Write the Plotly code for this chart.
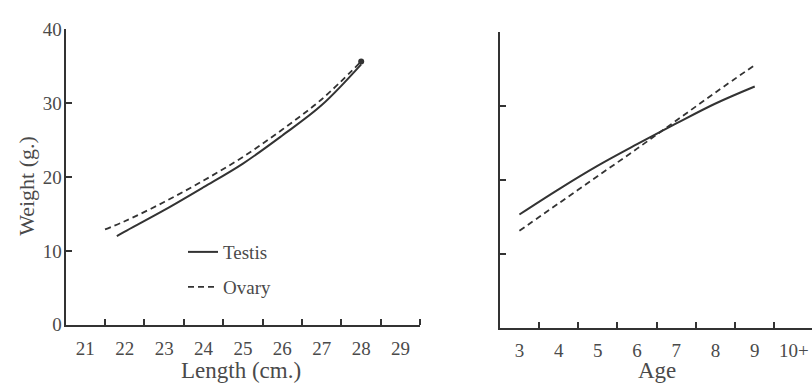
import plotly.graph_objects as go

# ---- data ----
length_testis = [21.8, 22, 23, 24, 25, 26, 27, 28]
weight_testis_len = [12.0, 12.6, 15.5, 18.6, 21.8, 25.6, 29.7, 35.2]
length_ovary = [21.5, 22, 23, 24, 25, 26, 27, 28]
weight_ovary_len = [12.9, 14.0, 16.6, 19.5, 22.7, 26.4, 30.5, 35.6]

ages = [3, 4, 5, 6, 7, 8, 9]
weight_testis_age = [15.3, 18.7, 21.9, 24.8, 27.6, 30.3, 32.6]
weight_ovary_age = [13.1, 16.8, 20.5, 24.2, 28.0, 31.8, 35.5]

length_ticks = [21, 22, 23, 24, 25, 26, 27, 28, 29]
age_ticks = [3, 4, 5, 6, 7, 8, 9, 10]
age_tick_labels = ["3", "4", "5", "6", "7", "8", "9", "10+"]
weight_ticks = [0, 10, 20, 30, 40]

W, H = 812, 385
FONT = "Liberation Serif"
TXT = "#4a4a4a"
LINE = "#333333"
DASH = "6px,4px"

fig = go.Figure()

fig.add_trace(go.Scatter(x=length_testis, y=weight_testis_len, mode="lines",
                         line=dict(color=LINE, width=2, shape="spline"),
                         name="Testis", legend="legend", xaxis="x", yaxis="y"))
fig.add_trace(go.Scatter(x=length_ovary, y=weight_ovary_len, mode="lines",
                         line=dict(color=LINE, width=1.8, dash=DASH, shape="spline"),
                         name="Ovary", legend="legend2", xaxis="x", yaxis="y"))
fig.add_trace(go.Scatter(x=[length_ovary[-1]], y=[weight_ovary_len[-1]], mode="markers",
                         marker=dict(color=LINE, size=6), showlegend=False,
                         xaxis="x", yaxis="y"))

fig.add_trace(go.Scatter(x=ages, y=weight_testis_age, mode="lines",
                         line=dict(color=LINE, width=2, shape="spline"),
                         showlegend=False, xaxis="x2", yaxis="y2"))
fig.add_trace(go.Scatter(x=ages, y=weight_ovary_age, mode="lines",
                         line=dict(color=LINE, width=1.8, dash=DASH, shape="spline"),
                         showlegend=False, xaxis="x2", yaxis="y2"))

tickfont = dict(family=FONT, size=19, color=TXT)

common_x = dict(showline=True, linecolor=LINE, linewidth=2, showgrid=False, zeroline=False,
                ticks="", tickfont=tickfont, ticklabelstandoff=5)
common_y = dict(showline=True, linecolor=LINE, linewidth=2, showgrid=False, zeroline=False,
                ticks="inside", ticklen=6, tickwidth=2, tickcolor=LINE, tickfont=tickfont,
                range=[0, 40], tickmode="array", tickvals=weight_ticks)

legend_font = dict(family=FONT, size=19, color=TXT)
title_font = dict(family=FONT, size=23, color=TXT)

fig.update_layout(
    width=W, height=H,
    margin=dict(l=0, r=0, t=0, b=0),
    paper_bgcolor="white", plot_bgcolor="white",
    xaxis=dict(common_x, domain=[65.6 / W, 420.3 / W], range=[20.5, 29.5],
               tickmode="array", tickvals=length_ticks,
               minor=dict(tickmode="array", tickvals=[v + 0.5 for v in length_ticks],
                          ticks="inside", ticklen=6, tickwidth=2, tickcolor=LINE),
               anchor="y"),
    yaxis=dict(common_y, domain=[(H - 333) / H, (H - 20) / H], anchor="x",
               ticklabelstandoff=-2),
    xaxis2=dict(common_x, domain=[499.8 / W, 1.0], range=[2.5, 10.46],
                tickmode="array", tickvals=age_ticks, ticktext=age_tick_labels,
                minor=dict(tickmode="array", tickvals=[v + 0.5 for v in age_ticks],
                           ticks="inside", ticklen=6, tickwidth=2, tickcolor=LINE),
                anchor="y2"),
    yaxis2=dict(common_y, domain=[(H - 336) / H, (H - 23) / H], anchor="x2",
                showticklabels=False),
    legend=dict(x=183 / W, y=(H - 256) / H, xanchor="left", yanchor="middle",
                bgcolor="rgba(0,0,0,0)", font=legend_font),
    legend2=dict(x=183 / W, y=(H - 293) / H, xanchor="left", yanchor="middle",
                 bgcolor="rgba(0,0,0,0)", font=legend_font),
    annotations=[
        dict(text="Weight (g.)", x=27 / W, y=(H - 186) / H, xref="paper", yref="paper",
             textangle=-90, showarrow=False, xanchor="center", yanchor="middle",
             font=dict(family=FONT, size=22, color=TXT)),
        dict(text="Length (cm.)", x=241 / W, y=(H - 381) / H, xref="paper", yref="paper",
             showarrow=False, xanchor="center", yanchor="middle", font=title_font),
        dict(text="Age", x=657 / W, y=(H - 381) / H, xref="paper", yref="paper",
             showarrow=False, xanchor="center", yanchor="middle", font=title_font),
    ],
)

fig.write_html("out.html")
